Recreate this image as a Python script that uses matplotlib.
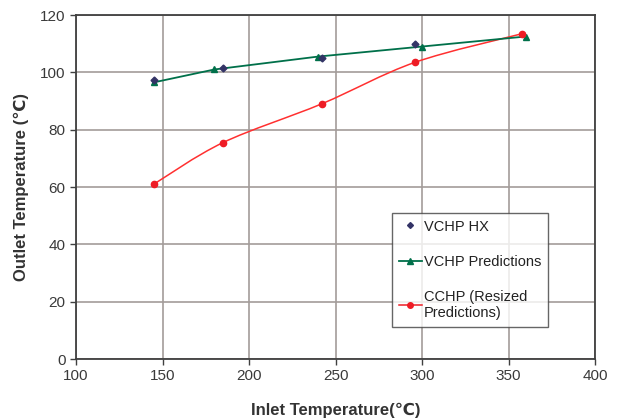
import numpy as np
import matplotlib
matplotlib.use("Agg")
import matplotlib.pyplot as plt
from matplotlib.path import Path
from matplotlib.patches import PathPatch
from matplotlib.lines import Line2D

plt.rcParams['font.family'] = ['Liberation Sans', 'DejaVu Sans']

# data
hx_x = [145, 185, 242, 296]
hx_y = [97.3, 101.5, 105.0, 109.9]

pred_x = [145, 180, 240, 300, 360]
pred_y = [96.5, 101.0, 105.5, 109.0, 112.5]

cchp_x = [145, 185, 242, 296, 358]
cchp_y = [61.0, 75.5, 89.0, 103.5, 113.5]

fig = plt.figure(figsize=(6.2, 4.19), dpi=100)
ax = fig.add_axes([76/620, 1-359/419, (595-76)/620, (359-15)/419])

grid_c = '#a39c9a'
ax.set_xlim(100, 400)
ax.set_ylim(0, 120)
ax.set_xticks(np.arange(100, 401, 50))
ax.set_yticks(np.arange(0, 121, 20))
ax.grid(True, color=grid_c, lw=1.2)
ax.set_axisbelow(True)
for s in ax.spines.values():
    s.set_color('#404040')
    s.set_linewidth(1.3)
ax.tick_params(labelsize=11, colors='#404040', labelcolor='#3a3a3a', length=4, width=1)

# smoothed red line (bezier through the points, like spreadsheet smoothing)
pts = np.column_stack([cchp_x, cchp_y])
verts = [tuple(pts[0])]
codes = [Path.MOVETO]
t = 1/6
for i in range(len(pts)-1):
    p0 = pts[i-1] if i > 0 else pts[i]
    p1 = pts[i]
    p2 = pts[i+1]
    p3 = pts[i+2] if i+2 < len(pts) else pts[i+1]
    c1 = p1 + (p2 - p0) * t
    c2 = p2 - (p3 - p1) * t
    verts += [tuple(c1), tuple(c2), tuple(p2)]
    codes += [Path.CURVE4]*3
ax.add_patch(PathPatch(Path(verts, codes), fc='none', ec='#ff3030', lw=1.1, zorder=3))
ax.plot(cchp_x, cchp_y, 'o', color='#ee1c25', ms=4.5, zorder=4)

ax.plot(pred_x, pred_y, '-^', color='#00704a', lw=1.3, ms=4.5, zorder=3)
ax.plot(hx_x, hx_y, 'D', color='#333366', ms=3.5, zorder=5, ls='none')

ax.set_xlabel('Inlet Temperature(℃)', fontsize=12, fontweight='bold', color='#333333', labelpad=14)
ax.set_ylabel('Outlet Temperature (℃)', fontsize=12, fontweight='bold', color='#333333', labelpad=8)

handles = [
    Line2D([], [], marker='D', color='#333366', ls='none', ms=3),
    Line2D([], [], marker='^', color='#00704a', lw=1.3, ms=4.5),
    Line2D([], [], marker='o', color='#ee1c25', lw=1.1, ms=4),
]
labels = ['VCHP HX', 'VCHP Predictions', 'CCHP (Resized\nPredictions)']
leg = ax.legend(handles, labels, loc='upper left', bbox_to_anchor=(316/519, 1-(213-15)/344),
                fontsize=10.5, frameon=True, fancybox=False, borderpad=0.45,
                labelspacing=1.45, handlelength=1.6, handletextpad=0.15, borderaxespad=0)
leg.get_frame().set_edgecolor('#404040')
leg.get_frame().set_linewidth(1.0)
for t_ in leg.get_texts():
    t_.set_color('#222222')

fig.savefig('out.png', dpi=100)
